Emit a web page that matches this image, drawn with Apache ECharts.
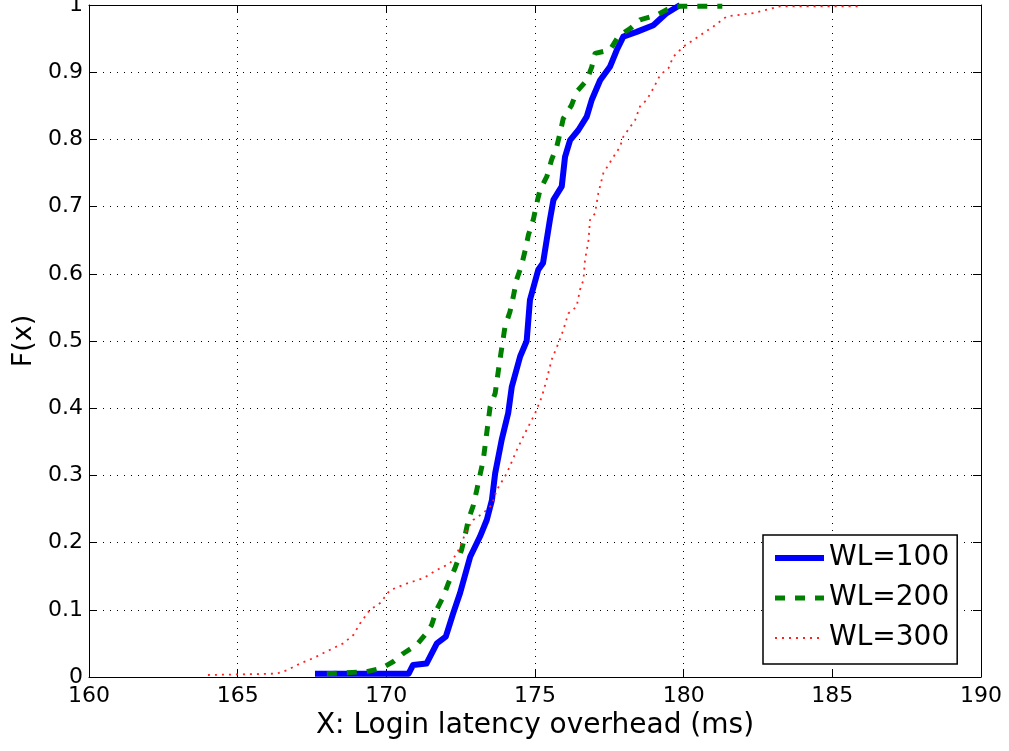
<!DOCTYPE html>
<html>
<head>
<meta charset="utf-8">
<script src="https://cdn.jsdelivr.net/npm/echarts@6/dist/echarts.min.js"></script>
<style>
html,body{margin:0;padding:0;background:#fff;}
#chart{width:1009px;height:751px;}
</style>
</head>
<body>
<div id="chart"></div>
<script>
// ---- Data ----
const seriesNames = ['WL=100', 'WL=200', 'WL=300'];

const wl100X = [167.6,170.75,170.9,171.35,171.7,172.0,172.25,172.48,172.82,173.15,173.38,173.55,173.66,173.88,174.1,174.22,174.5,174.72,174.83,175.11,175.27,175.5,175.62,175.9,176.01,176.18,176.46,176.74,176.91,177.19,177.52,177.75,177.97,178.42,178.98,179.43,179.88];
const wl100Y = [0.005,0.005,0.018,0.02,0.05,0.06,0.095,0.125,0.179,0.209,0.234,0.263,0.303,0.353,0.393,0.432,0.477,0.5,0.561,0.606,0.616,0.68,0.71,0.73,0.774,0.799,0.814,0.834,0.859,0.888,0.908,0.933,0.953,0.96,0.97,0.988,1.0];

const wl200X = [168.0,169.34,169.84,170.24,170.57,171.02,171.3,171.52,171.69,171.92,172.09,172.31,172.53,172.65,172.76,172.93,173.04,173.26,173.49,173.66,173.82,173.99,174.16,174.27,174.38,174.55,174.67,174.78,174.95,175.06,175.17,175.4,175.56,175.73,175.84,175.95,176.23,176.4,176.74,176.91,177.02,177.52,177.8,178.2,178.53,179.09,179.43,179.77,181.3];
const wl200Y = [0.005,0.008,0.013,0.023,0.035,0.048,0.0625,0.077,0.1,0.12,0.14,0.162,0.189,0.211,0.234,0.256,0.278,0.323,0.402,0.422,0.472,0.521,0.544,0.566,0.591,0.613,0.635,0.658,0.682,0.705,0.725,0.745,0.77,0.789,0.809,0.831,0.851,0.871,0.888,0.908,0.928,0.933,0.953,0.965,0.978,0.985,0.993,0.998,0.998];

const wl300X = [164.0,166.31,166.65,167.1,167.54,167.99,168.55,168.89,169.12,169.45,169.79,170.12,170.68,171.24,171.69,172.14,172.37,172.53,172.7,172.93,173.26,173.55,173.71,174.05,174.39,174.72,175.0,175.23,175.39,175.56,175.79,175.95,176.12,176.4,176.51,176.63,176.68,176.8,176.85,177.02,177.13,177.3,177.58,177.86,177.97,178.37,178.53,178.76,178.98,179.21,179.49,179.65,179.99,180.33,180.66,181.0,181.45,182.35,183.24,186.0];
const wl300Y = [0.003,0.005,0.01,0.02,0.028,0.038,0.05,0.0625,0.08,0.1,0.11,0.129,0.139,0.147,0.159,0.169,0.184,0.199,0.219,0.234,0.244,0.256,0.278,0.303,0.338,0.368,0.392,0.417,0.442,0.472,0.497,0.516,0.541,0.551,0.576,0.591,0.62,0.65,0.68,0.69,0.72,0.75,0.77,0.789,0.804,0.829,0.849,0.859,0.876,0.896,0.906,0.923,0.938,0.948,0.958,0.968,0.983,0.988,0.998,0.998];

const xMin = 160, xMax = 190, xStep = 5;
const yMin = 0, yMax = 1, yStep = 0.1;
const xTitle = 'X: Login latency overhead (ms)';
const yTitle = 'F(x)';

// ---- Build ----
function pairs(xs, ys){ return xs.map((x,i)=>[x, ys[i]]); }
const FONT = 'DejaVu Sans';
const gridStyle = {show:true, lineStyle:{color:'#000', width:1, type:[1,6]}};
const styles = [
  {color:'#0000ff', width:6, type:'solid'},
  {color:'#008000', width:5, type:[10,10]},
  {color:'#ff2020', width:1.8, type:[2,5]}
];
const tick = {show:true, inside:true, length:8, lineStyle:{color:'#000'}};
const edge = {show:true, onZero:false, lineStyle:{color:'#000', width:1}};

const chart = echarts.init(document.getElementById('chart'), null, {renderer:'canvas'});
chart.setOption({
  animation:false,
  backgroundColor:'#fff',
  grid:{left:89, right:28, top:5, bottom:74, outerBoundsMode:'none', containLabel:false},
  xAxis:[{
    type:'value', min:xMin, max:xMax, interval:xStep,
    name:xTitle, nameLocation:'middle', nameGap:34,
    nameTextStyle:{fontFamily:FONT, fontSize:28, color:'#000'},
    axisLine:edge, axisTick:tick,
    axisLabel:{fontFamily:FONT, fontSize:22, color:'#000', margin:8},
    splitLine:gridStyle
  },{
    type:'value', min:xMin, max:xMax, interval:xStep, position:'top',
    axisLine:edge, axisTick:tick,
    axisLabel:{show:false}, splitLine:{show:false}
  }],
  yAxis:[{
    type:'value', min:yMin, max:yMax, interval:yStep,
    name:yTitle, nameLocation:'middle', nameGap:52, nameRotate:90,
    nameTextStyle:{fontFamily:FONT, fontSize:27, color:'#000'},
    axisLine:edge, axisTick:tick,
    axisLabel:{fontFamily:FONT, fontSize:22, color:'#000', margin:6},
    splitLine:gridStyle
  },{
    type:'value', min:yMin, max:yMax, interval:yStep, position:'right',
    axisLine:edge, axisTick:tick,
    axisLabel:{show:false}, splitLine:{show:false}
  }],
  legend:{
    orient:'vertical', left:763, top:535,
    padding:[9,8,12,9], itemGap:12, itemWidth:49, itemHeight:14,
    borderColor:'#000', borderWidth:1.5, backgroundColor:'#fff',
    textStyle:{fontFamily:FONT, fontSize:28, color:'#000'},
    itemStyle:{opacity:0},
    data:seriesNames.map((n,i)=>({name:n, itemStyle:{opacity:0}, lineStyle:{color:styles[i].color, width:styles[i].width, type:styles[i].type}}))
  },
  series:seriesNames.map((n,i)=>({
    name:n, type:'line', data:pairs([wl100X,wl200X,wl300X][i], [wl100Y,wl200Y,wl300Y][i]),
    showSymbol:false, symbol:'none',
    lineStyle:{color:styles[i].color, width:styles[i].width, type:styles[i].type, join:'round'},
    itemStyle:{color:styles[i].color}
  }))
});
</script>
</body>
</html>
